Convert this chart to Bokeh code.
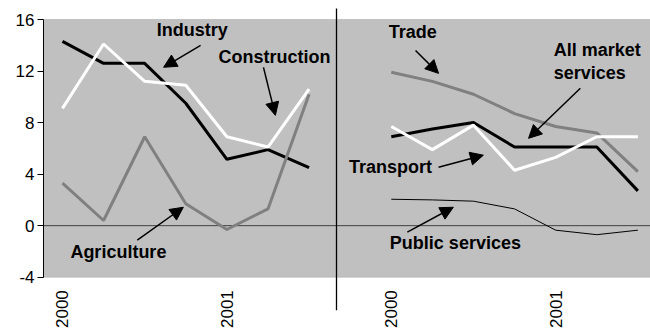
from bokeh.plotting import figure
from bokeh.models import Range1d, FixedTicker, BoxAnnotation, Span, Arrow, NormalHead, ColumnDataSource
from bokeh.core.properties import value
from bokeh.embed import file_html
from bokeh.resources import INLINE

# ---------------- data ----------------
x_left = [0, 1, 2, 3, 4, 5, 6]
x_right = [8, 9, 10, 11, 12, 13, 14]

industry = [14.3, 12.6, 12.6, 9.5, 5.15, 5.9, 4.5]
construction = [9.1, 14.1, 11.2, 10.9, 6.9, 6.1, 10.6]
agriculture = [3.3, 0.4, 6.9, 1.7, -0.3, 1.3, 10.2]

trade = [11.9, 11.2, 10.2, 8.7, 7.7, 7.2, 4.2]
all_market = [6.9, 7.5, 8.0, 6.1, 6.1, 6.1, 2.7]
transport = [7.7, 5.9, 7.8, 4.3, 5.3, 6.9, 6.9]
public = [2.05, 2.0, 1.9, 1.3, -0.35, -0.7, -0.35]

year_tick_x = [0, 4, 8, 12]
year_labels = ["2000", "2001", "2000", "2001"]
y_ticks = [-4, 0, 4, 8, 12, 16]
y_tick_labels = {-4: "-4", 0: "0", 4: "4", 8: "8", 12: "12", 16: "16"}

# annotation texts
ann_text = ["Industry", "Construction", "Agriculture", "Trade", "Transport", "Public services"]
ann_x = [3.16, 5.16, 1.36, 8.52, 7.98, 9.56]
ann_y = [15.16, 13.06, -2.05, 15.0, 4.53, -1.36]
ams_text = ["All market", "services"]
ams_x = [11.95, 11.95]
ams_y = [13.6, 11.82]

arrow_x0 = [3.36, 4.89, 1.82, 8.59, 12.6, 9.15, 8.39]
arrow_y0 = [13.99, 12.29, -1.12, 13.6, 10.66, 4.53, -0.5]
arrow_x1 = [2.46, 5.18, 2.94, 9.15, 11.34, 10.24, 9.51]
arrow_y1 = [12.29, 8.56, 1.43, 11.82, 6.78, 5.47, 1.43]

# ---------------- figure ----------------
p = figure(width=650, height=330, output_backend="svg", toolbar_location=None,
           x_range=Range1d(-0.462, 14.307), y_range=Range1d(-8.136, 17.475),
           min_border_left=43, min_border_right=0, min_border_top=0, min_border_bottom=0)
p.outline_line_color = None
p.grid.visible = False
p.xaxis.visible = False
p.background_fill_color = "white"

yax = p.yaxis[0]
yax.bounds = (-4, 16)
yax.ticker = FixedTicker(ticks=y_ticks)
yax.major_label_overrides = y_tick_labels
yax.minor_tick_line_color = None
yax.major_tick_in = 0
yax.major_tick_out = 6
yax.major_label_standoff = 3
yax.axis_line_color = "black"
yax.major_tick_line_color = "black"
yax.major_label_text_font = "Liberation Sans"
yax.major_label_text_font_size = "17px"
yax.major_label_text_color = "black"

box = BoxAnnotation(bottom=-4, top=16, fill_color="#C0C0C0", fill_alpha=1,
                    line_color="#808080", line_width=1, level="underlay")
p.add_layout(box)
p.add_layout(Span(location=0, dimension="width", line_color="#404040", line_width=1, level="underlay"))

# divider
p.segment(x0=[6.667], y0=[16.854], x1=[6.667], y1=[-6.56], line_color="black", line_width=1.3)

# left panel
p.line(x_left, industry, line_color="black", line_width=3)
p.line(x_left, construction, line_color="white", line_width=3)
p.line(x_left, agriculture, line_color="#808080", line_width=3)

# right panel
p.line(x_right, trade, line_color="#808080", line_width=3)
p.line(x_right, all_market, line_color="black", line_width=3)
p.line(x_right, transport, line_color="white", line_width=3)
p.line(x_right, public, line_color="black", line_width=1)

# year labels
p.text(x=year_tick_x, y=[-4] * len(year_tick_x), text=year_labels, angle=1.5708,
       text_align="right", text_baseline="middle", y_offset=13,
       text_font=value("Liberation Sans"), text_font_size="17px", text_color="black")

# annotations
p.text(x=ann_x, y=ann_y, text=ann_text, text_align="center", text_baseline="middle",
       text_font=value("Liberation Sans"), text_font_style="bold", text_font_size="18px",
       text_color="black")
p.text(x=ams_x, y=ams_y, text=ams_text, text_align="left", text_baseline="middle",
       text_font=value("Liberation Sans"), text_font_style="bold", text_font_size="18px",
       text_color="black")

asrc = ColumnDataSource(dict(x0=arrow_x0, y0=arrow_y0, x1=arrow_x1, y1=arrow_y1))
p.add_layout(Arrow(end=NormalHead(size=13, fill_color="black", line_color="black"),
                   x_start="x0", y_start="y0", x_end="x1", y_end="y1", source=asrc,
                   line_color="black", line_width=1.5))

open("out.html", "w").write(file_html(p, INLINE))
